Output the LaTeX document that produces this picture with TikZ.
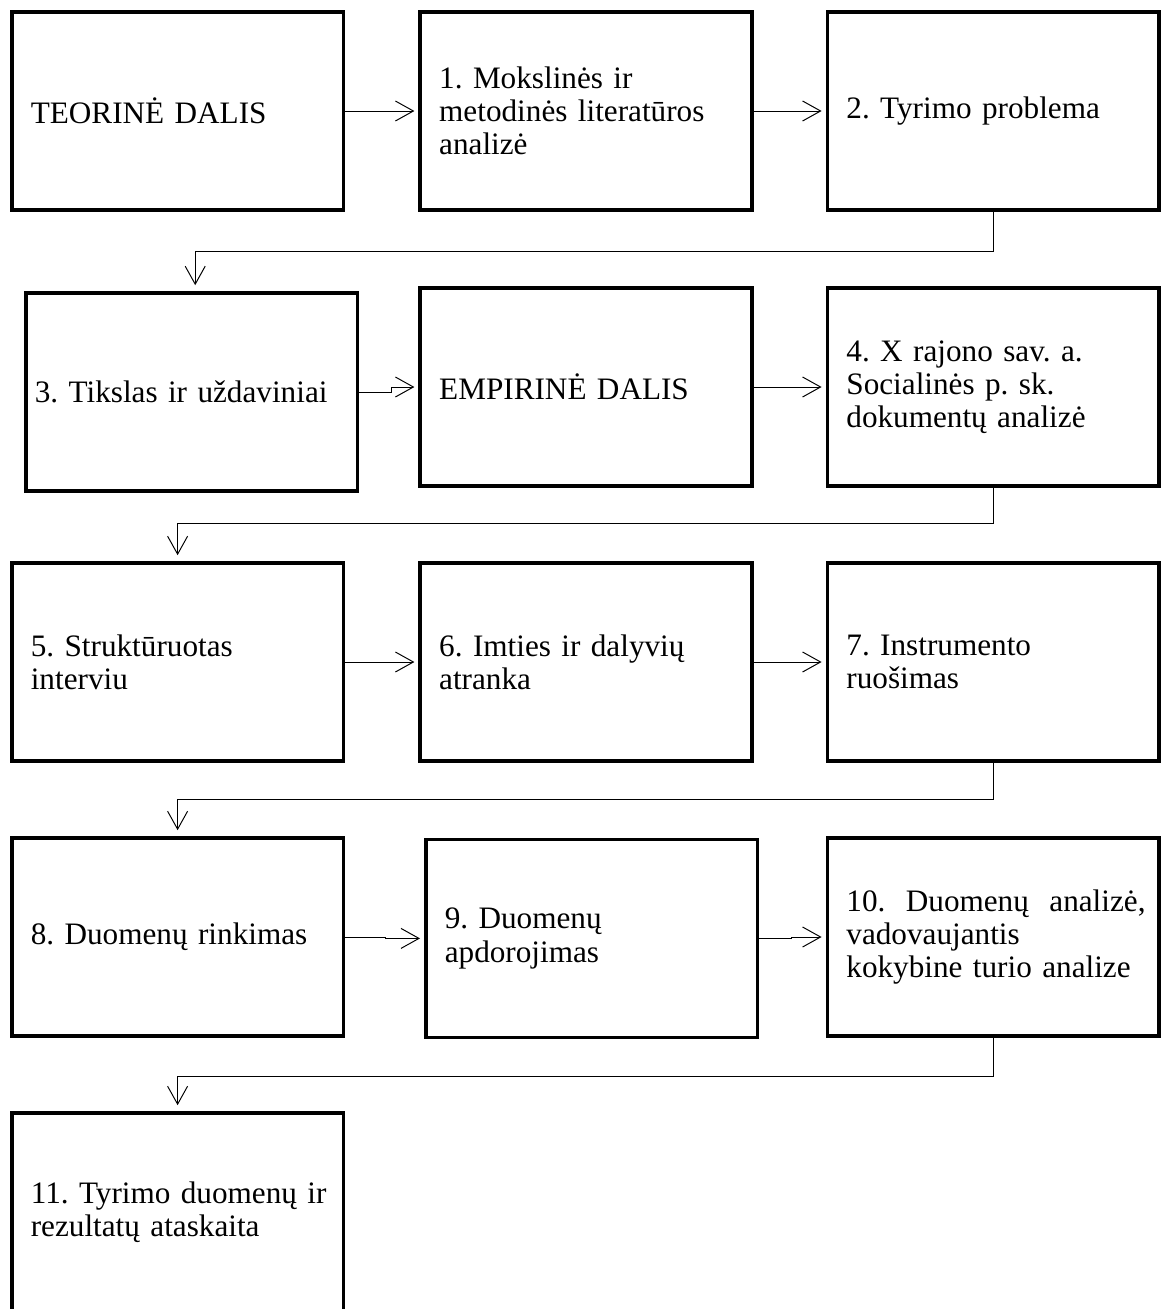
\documentclass[tikz,border=0pt]{standalone}
\usepackage{fontspec}
\setmainfont{Liberation Serif}
\usepackage{tikz}
\usetikzlibrary{positioning,arrows.meta,calc}
\frenchspacing
\hyphenpenalty=10000

\begin{document}
\begin{tikzpicture}[
  font=\fontsize{22.2}{23.6}\selectfont,
  stepbox/.style={draw, line width=0.9mm, minimum width=8.29cm, minimum height=4.95cm, text width=7.34cm, inner xsep=0.475cm, inner ysep=0pt, align=left},
  arr/.style={-{Straight Barb[length=4.5mm, width=5mm]}, line width=0.7pt, shorten >=0.1cm},
  turn/.style={-{Straight Barb[length=4.5mm, width=5mm]}, line width=0.7pt, shorten >=0.15cm},
]
  \useasboundingbox (0,0) rectangle (29.2,-32.725);
  % eilute 1
  \node[stepbox] (teor) at (4.44,-2.775) {TEORINĖ DALIS};
  \node[stepbox] (lit) at (14.65,-2.775) {1. Mokslinės ir\\metodinės literatūros\\analizė};
  \node[stepbox] (probl) at (24.83,-2.775) {2. Tyrimo problema};
  % eilute 2
  \node[stepbox, text width=7.84cm, inner xsep=0.225cm] (tiksl) at (4.79,-9.8) {3. Tikslas ir uždaviniai};
  \node[stepbox] (empir) at (14.65,-9.675) {EMPIRINĖ DALIS};
  \node[stepbox] (dok) at (24.83,-9.675) {4. X rajono sav. a.\\Socialinės p. sk.\\dokumentų analizė};
  % eilute 3
  \node[stepbox] (interv) at (4.44,-16.55) {5. Struktūruotas\\interviu};
  \node[stepbox] (imtis) at (14.65,-16.55) {6. Imties ir dalyvių\\atranka};
  \node[stepbox] (instr) at (24.83,-16.55) {7. Instrumento\\ruošimas};
  % eilute 4
  \node[stepbox] (rink) at (4.44,-23.425) {8. Duomenų rinkimas};
  \node[stepbox] (apdor) at (14.79,-23.46) {9. Duomenų\\apdorojimas};
  \node[stepbox] (anal) at (24.83,-23.425) {\hbox to 7.48cm{10. \hfil Duomenų \hfil analizė,}\\vadovaujantis\\kokybine turio analize};
  % eilute 5
  \node[stepbox] (atask) at (4.44,-30.3) {\mbox{11. Tyrimo duomenų ir}\\rezultatų ataskaita};

  \draw[arr] (teor) -- (lit);
  \draw[arr] (lit) -- (probl);
  \draw[turn] (probl.south) -- ++(0,-1) -| ($(tiksl.north)+(0.09,0)$);
  \draw[arr] (tiksl.east) -- ++(0.8,0) |- (empir.west);
  \draw[arr] (empir) -- (dok);
  \draw[turn] (dok.south) -- ++(0,-0.9) -| (interv.north);
  \draw[arr] (interv) -- (imtis);
  \draw[arr] (imtis) -- (instr);
  \draw[turn] (instr.south) -- ++(0,-0.92) -| (rink.north);
  \draw[arr] (rink.east) -- ++(1.0,0) |- (apdor.west);
  \draw[arr] (apdor.east) -- ++(0.8,0) |- (anal.west);
  \draw[turn] (anal.south) -- ++(0,-0.97) -| (atask.north);
\end{tikzpicture}
\end{document}
